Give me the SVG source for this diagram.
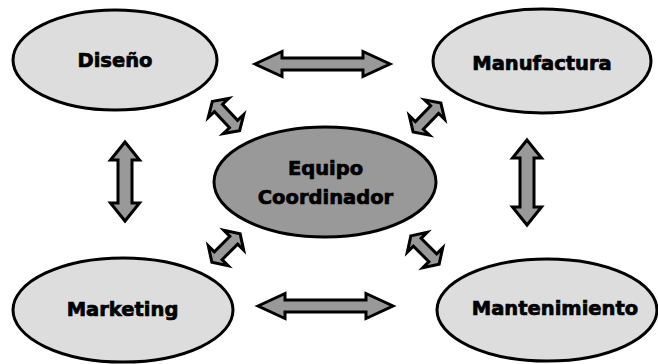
<svg xmlns="http://www.w3.org/2000/svg" xmlns:xlink="http://www.w3.org/1999/xlink" width="658" height="364" viewBox="0 0 658 364">
<style>
.node{fill:#dddddd;stroke:#000;stroke-width:3}
.core{fill:#999999;stroke:#000;stroke-width:3}
.arr{fill:#999999;stroke:#000;stroke-width:3;stroke-linejoin:miter}
.lbl{font-family:"DejaVu Sans",sans-serif;font-weight:bold;font-size:19.5px;fill:#000;stroke:#000;stroke-width:0.7;text-anchor:middle}
</style>
<defs>
<path id="diag" d="M-20 0 L-11 -14 L-11 -5.5 L11 -5.5 L11 -14 L20 0 L11 14 L11 5.5 L-11 5.5 L-11 14 Z"/>
</defs>
<rect width="658" height="364" fill="#fff"/>
<g id="connectors">
<path class="arr" d="M255 64 L282 51.5 L282 58 L363 58 L363 51.5 L390 64 L363 76.5 L363 70 L282 70 L282 76.5 Z"/>
<path class="arr" d="M258 306 L285 293.5 L285 300 L366 300 L366 293.5 L393 306 L366 318.5 L366 312 L285 312 L285 318.5 Z"/>
<path class="arr" d="M125 142 L139.5 160 L132 160 L132 203 L139.5 203 L125 221 L110.5 203 L118 203 L118 160 L110.5 160 Z"/>
<path class="arr" d="M527 140 L541.5 158 L534 158 L534 207 L541.5 207 L527 225 L512.5 207 L520 207 L520 158 L512.5 158 Z"/>
<use class="arr" xlink:href="#diag" transform="translate(226,116) rotate(47)"/>
<use class="arr" xlink:href="#diag" transform="translate(427,117.5) rotate(-46)"/>
<use class="arr" xlink:href="#diag" transform="translate(226,248) rotate(-45)"/>
<use class="arr" xlink:href="#diag" transform="translate(425,250) rotate(45)"/>
</g>
<g id="diseno">
<ellipse class="node" cx="115" cy="60" rx="102" ry="50"/>
<text class="lbl" x="115" y="67">Diseño</text>
</g>
<g id="manufactura">
<ellipse class="node" cx="542" cy="61" rx="109" ry="52"/>
<text class="lbl" x="542" y="70">Manufactura</text>
</g>
<g id="equipo">
<ellipse class="core" cx="325" cy="182" rx="111" ry="55"/>
<text class="lbl" x="325.5" y="175">Equipo</text>
<text class="lbl" x="325.5" y="204">Coordinador</text>
</g>
<g id="marketing">
<ellipse class="node" cx="123" cy="310" rx="110" ry="52"/>
<text class="lbl" x="122.5" y="316">Marketing</text>
</g>
<g id="mantenimiento">
<ellipse class="node" cx="547" cy="310" rx="110" ry="51"/>
<text class="lbl" x="555" y="315">Mantenimiento</text>
</g>
</svg>
